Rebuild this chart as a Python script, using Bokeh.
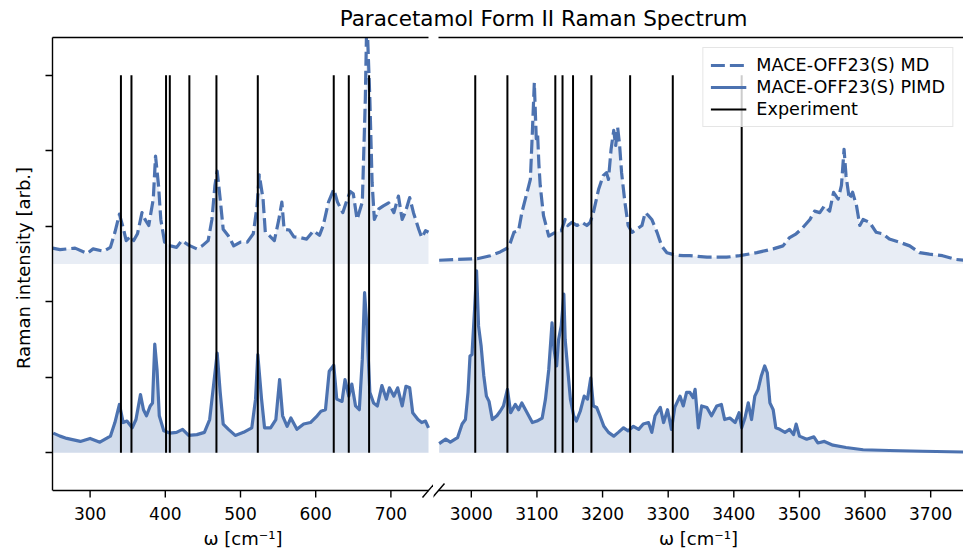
from bokeh.plotting import figure
from bokeh.models import Range1d, LinearAxis, FixedTicker, Legend, LegendItem, Label
from bokeh.layouts import column, row
from bokeh.embed import file_html
from bokeh.resources import INLINE

# ---------------- data ----------------
TITLE = "Paracetamol Form II Raman Spectrum"
Y_LABEL = "Raman intensity [arb.]"
X_LABEL = "ω [cm⁻¹]"
NAME_MD = "MACE-OFF23(S) MD"
NAME_PIMD = "MACE-OFF23(S) PIMD"
NAME_EXP = "Experiment"

LOW_TICKS = [300, 400, 500, 600, 700]
HIGH_TICKS = [3000, 3100, 3200, 3300, 3400, 3500, 3600, 3700]
Y_TICKS = [0, 1, 2, 3, 4, 5]

EXP_LOW = [341, 355, 401, 406, 432, 468, 523, 624, 644, 671]
EXP_HIGH = [3006, 3055, 3128, 3139, 3155, 3183, 3242, 3307, 3412]

LOW_MD_X = [250, 260, 280, 296, 304, 318, 327, 333, 339, 344, 348, 354, 358, 363, 369, 373, 378, 384, 387, 391,
            394, 399, 407, 415, 422, 431, 442, 449, 457, 462, 466, 469, 473, 477, 484, 491, 500, 509, 517, 522,
            525, 530, 533, 539, 545, 551, 555, 558, 565, 571, 579, 588, 597, 605, 610, 617, 624, 629, 636, 642,
            646, 650, 655, 662, 666, 668, 672, 675, 678, 684, 690, 697, 704, 710, 715, 719, 725, 730, 737, 741,
            746, 750]
LOW_MD_Y = [0.21, 0.19, 0.21, 0.14, 0.20, 0.17, 0.22, 0.42, 0.66, 0.48, 0.31, 0.37, 0.31, 0.40, 0.68, 0.59, 0.51, 0.86, 1.43, 1.04,
            0.59, 0.29, 0.24, 0.22, 0.31, 0.25, 0.20, 0.24, 0.31, 0.59, 1.04, 1.23, 0.86, 0.46, 0.37, 0.24, 0.29, 0.29, 0.40, 0.77,
            1.18, 0.86, 0.42, 0.37, 0.31, 0.59, 0.82, 0.46, 0.45, 0.36, 0.35, 0.33, 0.44, 0.38, 0.51, 0.82, 0.99, 0.82, 0.68, 0.86,
            0.96, 0.93, 0.59, 0.82, 2.19, 3.30, 2.19, 1.08, 0.59, 0.73, 0.77, 0.81, 0.68, 0.90, 0.59, 0.68, 0.88, 0.68, 0.46, 0.35,
            0.44, 0.42]

LOW_PIMD_X = [251, 260, 269, 278, 287, 300, 313, 327, 333, 339, 344, 349, 356, 361, 367, 371, 375, 380, 383, 386,
              389, 392, 398, 406, 415, 423, 431, 442, 452, 459, 464, 469, 473, 477, 484, 493, 504, 515, 520, 523,
              528, 532, 540, 547, 552, 556, 562, 567, 575, 584, 593, 602, 607, 613, 618, 624, 628, 635, 639, 644,
              648, 653, 658, 662, 665, 668, 672, 677, 682, 688, 694, 698, 704, 709, 715, 720, 725, 729, 736, 741,
              746, 750]
LOW_PIMD_Y = [0.26, 0.22, 0.19, 0.17, 0.15, 0.19, 0.14, 0.22, 0.40, 0.64, 0.40, 0.42, 0.33, 0.44, 0.77, 0.57, 0.49, 0.62, 0.66, 1.44,
              1.10, 0.49, 0.29, 0.26, 0.27, 0.31, 0.23, 0.24, 0.27, 0.44, 0.88, 1.32, 0.80, 0.38, 0.31, 0.23, 0.27, 0.33, 0.71, 1.30,
              0.71, 0.33, 0.33, 0.44, 0.97, 0.49, 0.35, 0.46, 0.31, 0.38, 0.40, 0.49, 0.55, 0.57, 1.08, 1.16, 0.71, 0.68, 0.97, 0.75,
              0.91, 0.62, 0.57, 1.24, 2.12, 1.68, 0.80, 0.66, 0.62, 0.89, 0.71, 0.86, 0.75, 0.86, 0.62, 0.88, 0.86, 0.53, 0.44, 0.40,
              0.42, 0.33]

HIGH_MD_X = [2951, 2979, 3009, 3029, 3044, 3057, 3065, 3072, 3077, 3085, 3090, 3093, 3096, 3099, 3101, 3103, 3105, 3110, 3118, 3128,
             3137, 3143, 3147, 3153, 3161, 3169, 3176, 3181, 3186, 3194, 3201, 3206, 3209, 3213, 3217, 3220, 3223, 3226, 3229, 3234,
             3239, 3245, 3252, 3260, 3265, 3270, 3275, 3283, 3290, 3298, 3310, 3323, 3333, 3359, 3389, 3409, 3435, 3460, 3475, 3485,
             3495, 3505, 3516, 3523, 3531, 3538, 3546, 3552, 3559, 3564, 3568, 3571, 3576, 3581, 3587, 3592, 3597, 3607, 3617, 3627,
             3637, 3652, 3668, 3683, 3698, 3718, 3739, 3750]
HIGH_MD_Y = [0.05, 0.06, 0.07, 0.11, 0.16, 0.22, 0.42, 0.44, 0.68, 0.95, 1.12, 1.74, 2.40, 1.66, 1.72, 1.32, 1.04, 0.64, 0.37, 0.42,
             0.44, 0.59, 0.51, 0.55, 0.51, 0.55, 0.51, 0.55, 0.68, 0.99, 1.17, 1.21, 1.12, 1.52, 1.77, 1.57, 1.81, 1.57, 1.21, 0.82,
             0.51, 0.42, 0.46, 0.51, 0.68, 0.64, 0.59, 0.42, 0.24, 0.15, 0.12, 0.11, 0.11, 0.09, 0.09, 0.11, 0.15, 0.20, 0.24, 0.35,
             0.40, 0.48, 0.59, 0.70, 0.68, 0.77, 0.70, 0.95, 0.86, 1.04, 1.52, 1.17, 0.86, 0.95, 0.77, 0.51, 0.59, 0.55, 0.42, 0.40,
             0.33, 0.29, 0.24, 0.15, 0.13, 0.11, 0.06, 0.05]

HIGH_PIMD_X = [2951, 2961, 2968, 2979, 2986, 2991, 2995, 2998, 3001, 3005, 3008, 3011, 3015, 3019, 3023, 3027, 3032, 3039, 3044, 3049,
               3055, 3060, 3067, 3072, 3077, 3085, 3093, 3100, 3108, 3113, 3118, 3123, 3126, 3130, 3133, 3137, 3141, 3143, 3147, 3151,
               3156, 3160, 3166, 3172, 3177, 3182, 3186, 3191, 3196, 3202, 3209, 3217, 3224, 3232, 3239, 3247, 3255, 3262, 3270, 3275,
               3280, 3288, 3293, 3299, 3305, 3310, 3318, 3323, 3328, 3333, 3338, 3341, 3346, 3351, 3359, 3366, 3374, 3381, 3386, 3394,
               3402, 3408, 3412, 3417, 3422, 3427, 3432, 3437, 3442, 3447, 3451, 3455, 3460, 3464, 3470, 3478, 3485, 3491, 3495, 3500,
               3511, 3522, 3528, 3538, 3551, 3571, 3597, 3637, 3688, 3750]
HIGH_PIMD_Y = [0.12, 0.18, 0.14, 0.20, 0.38, 0.44, 0.80, 1.28, 1.30, 1.90, 2.41, 1.68, 1.41, 1.02, 0.75, 0.68, 0.44, 0.49, 0.55, 0.62,
               0.84, 0.53, 0.64, 0.57, 0.66, 0.53, 0.40, 0.42, 0.46, 0.71, 1.10, 1.72, 1.37, 1.15, 1.50, 1.68, 2.10, 1.50, 1.10, 0.71,
               0.49, 0.42, 0.55, 0.75, 0.71, 0.99, 0.62, 0.60, 0.49, 0.35, 0.27, 0.22, 0.27, 0.33, 0.29, 0.35, 0.31, 0.38, 0.40, 0.27,
               0.49, 0.60, 0.40, 0.57, 0.31, 0.60, 0.75, 0.62, 0.80, 0.80, 0.73, 0.84, 0.33, 0.62, 0.60, 0.49, 0.62, 0.64, 0.44, 0.46,
               0.40, 0.53, 0.33, 0.46, 0.66, 0.44, 0.75, 0.84, 1.02, 1.15, 1.06, 0.66, 0.57, 0.33, 0.31, 0.27, 0.31, 0.24, 0.38, 0.22,
               0.18, 0.21, 0.13, 0.15, 0.10, 0.07, 0.04, 0.03, 0.02, 0.01]

# ---------------- layout / style constants ----------------
MD_OFFSET = 2.5
EXP_BOTTOM, EXP_TOP = 0, 5
LOW_VIEW = (250, 750)
HIGH_VIEW = (2950, 3750)
Y_VIEW = (-0.5, 5.5)

FONT = "DejaVu Sans"
BLUE = "#4C72B0"
TITLE_H = 31
PANEL_H = 520
LEFT_W, RIGHT_W = 433, 530
GAP_HALF = 5            # px between each axes box and the panel edge
EXTRA_BELOW = 8         # px of frame kept below the bottom spine for the break marks
TICK_LEN = 7
PX_Y = 453 / (Y_VIEW[1] - Y_VIEW[0])
PX_LOW = 376 / (LOW_VIEW[1] - LOW_VIEW[0])
PX_HIGH = 525 / (HIGH_VIEW[1] - HIGH_VIEW[0])
LABEL_FONT_SIZE = "18px"
TICK_FONT_SIZE = "17px"
SPINE_W = 1.4


def make_panel(xr, width, bl, br, with_y):
    y_range = Range1d(Y_VIEW[0] - EXTRA_BELOW / PX_Y, Y_VIEW[1])
    p = figure(width=width, height=PANEL_H, x_range=Range1d(*xr), y_range=y_range,
               output_backend="svg", toolbar_location=None,
               y_axis_location="left" if with_y else None,
               min_border_left=bl, min_border_right=br, min_border_top=6, min_border_bottom=53)
    p.outline_line_color = None
    p.grid.visible = False
    p.background_fill_color = "white"
    p.border_fill_color = "white"
    return p


def style_bottom(p, ticks, view):
    # tick labels and axis title come from the axis; its spine and tick marks are drawn
    # at the bottom of the axes box (a few px above the frame edge, to leave room for "//")
    ax = p.xaxis[0]
    ax.ticker = FixedTicker(ticks=ticks)
    ax.axis_line_color = None
    ax.major_tick_line_color = None
    ax.minor_tick_line_color = None
    ax.major_tick_out = 0
    ax.major_tick_in = 0
    ax.major_label_text_font = FONT
    ax.major_label_text_font_size = TICK_FONT_SIZE
    ax.major_label_text_color = "black"
    ax.major_label_standoff = 8
    ax.axis_label = X_LABEL
    ax.axis_label_text_font = FONT
    ax.axis_label_text_font_size = LABEL_FONT_SIZE
    ax.axis_label_text_font_style = "normal"
    ax.axis_label_text_color = "black"
    ax.axis_label_standoff = 5
    p.segment(x0=[view[0]], y0=[Y_VIEW[0]], x1=[view[1]], y1=[Y_VIEW[0]],
              line_color="black", line_width=SPINE_W)
    p.segment(x0=ticks, y0=[Y_VIEW[0]] * len(ticks), x1=ticks,
              y1=[Y_VIEW[0] - TICK_LEN / PX_Y] * len(ticks), line_color="black", line_width=SPINE_W)
    top = LinearAxis(ticker=FixedTicker(ticks=[]), bounds=view, major_tick_out=0, major_tick_in=0,
                     minor_tick_out=0, minor_tick_in=0, major_label_standoff=0,
                     axis_line_width=SPINE_W, axis_line_color="black",
                     major_label_text_font_size="0px")
    p.add_layout(top, "above")


def draw(p, md_x, md_y, pimd_x, pimd_y, exp):
    md_top = [MD_OFFSET + v for v in md_y]
    p.varea(x=md_x, y1=[MD_OFFSET] * len(md_x), y2=md_top, fill_color=BLUE, fill_alpha=0.13)
    p.varea(x=pimd_x, y1=[0] * len(pimd_x), y2=pimd_y, fill_color=BLUE, fill_alpha=0.25)
    r_md = p.line(md_x, md_top, line_color=BLUE, line_width=3.2, line_dash="14 5", line_join="round")
    r_pimd = p.line(pimd_x, pimd_y, line_color=BLUE, line_width=3.2, line_join="round")
    r_exp = p.segment(x0=exp, y0=[EXP_BOTTOM] * len(exp), x1=exp, y1=[EXP_TOP] * len(exp),
                      line_color="black", line_width=2)
    return r_md, r_pimd, r_exp


def break_mark(p, x_edge, px_per_unit):
    dx = 6 / px_per_unit
    dy = 7 / PX_Y
    p.segment(x0=[x_edge - dx], y0=[Y_VIEW[0] - dy], x1=[x_edge + dx], y1=[Y_VIEW[0] + dy],
              line_color="black", line_width=SPINE_W)


# left panel (frame extends GAP_HALF px past the axes box on the right)
p1 = make_panel((LOW_VIEW[0], LOW_VIEW[1] + GAP_HALF / PX_LOW), LEFT_W, 52, 0, True)
style_bottom(p1, LOW_TICKS, LOW_VIEW)
ya = p1.yaxis[0]
ya.ticker = FixedTicker(ticks=Y_TICKS)
ya.bounds = Y_VIEW
ya.minor_tick_line_color = None
ya.major_tick_out = TICK_LEN
ya.major_tick_in = 0
ya.axis_line_width = SPINE_W
ya.major_tick_line_width = SPINE_W
ya.axis_line_color = "black"
ya.major_tick_line_color = "black"
ya.major_label_overrides = {t: "" for t in Y_TICKS}
ya.major_label_standoff = 0
ya.axis_label = Y_LABEL
ya.axis_label_text_font = FONT
ya.axis_label_text_font_size = LABEL_FONT_SIZE
ya.axis_label_text_font_style = "normal"
ya.axis_label_text_color = "black"
ya.axis_label_standoff = 12
draw(p1, LOW_MD_X, LOW_MD_Y, LOW_PIMD_X, LOW_PIMD_Y, EXP_LOW)
break_mark(p1, LOW_VIEW[1], PX_LOW)

# right panel (frame extends GAP_HALF px before the axes box on the left)
p2 = make_panel((HIGH_VIEW[0] - GAP_HALF / PX_HIGH, HIGH_VIEW[1]), RIGHT_W, 0, 0, False)
style_bottom(p2, HIGH_TICKS, HIGH_VIEW)
r_md, r_pimd, r_exp = draw(p2, HIGH_MD_X, HIGH_MD_Y, HIGH_PIMD_X, HIGH_PIMD_Y, EXP_HIGH)
break_mark(p2, HIGH_VIEW[0], PX_HIGH)

legend = Legend(items=[LegendItem(label=NAME_MD, renderers=[r_md]),
                       LegendItem(label=NAME_PIMD, renderers=[r_pimd]),
                       LegendItem(label=NAME_EXP, renderers=[r_exp])],
                location="top_right", label_text_font=FONT, label_text_font_size="17.6px",
                label_text_color="black", glyph_width=36, glyph_height=20, label_height=20,
                label_standoff=10, padding=7, spacing=2, margin=10,
                border_line_color="#cccccc", border_line_width=1.2,
                background_fill_color="white", background_fill_alpha=0.8)
p2.add_layout(legend)

# title strip
pt = figure(width=LEFT_W + RIGHT_W, height=TITLE_H, x_range=Range1d(0, LEFT_W + RIGHT_W),
            y_range=Range1d(0, TITLE_H), output_backend="svg", toolbar_location=None,
            x_axis_location=None, y_axis_location=None, min_border=0)
pt.outline_line_color = None
pt.grid.visible = False
pt.add_layout(Label(x=543, y=TITLE_H - 18, text=TITLE, text_align="center", text_baseline="middle",
                    text_font=FONT, text_font_size="21.5px", text_color="black"))

layout = column(pt, row(p1, p2))
open("out.html", "w").write(file_html(layout, INLINE))
